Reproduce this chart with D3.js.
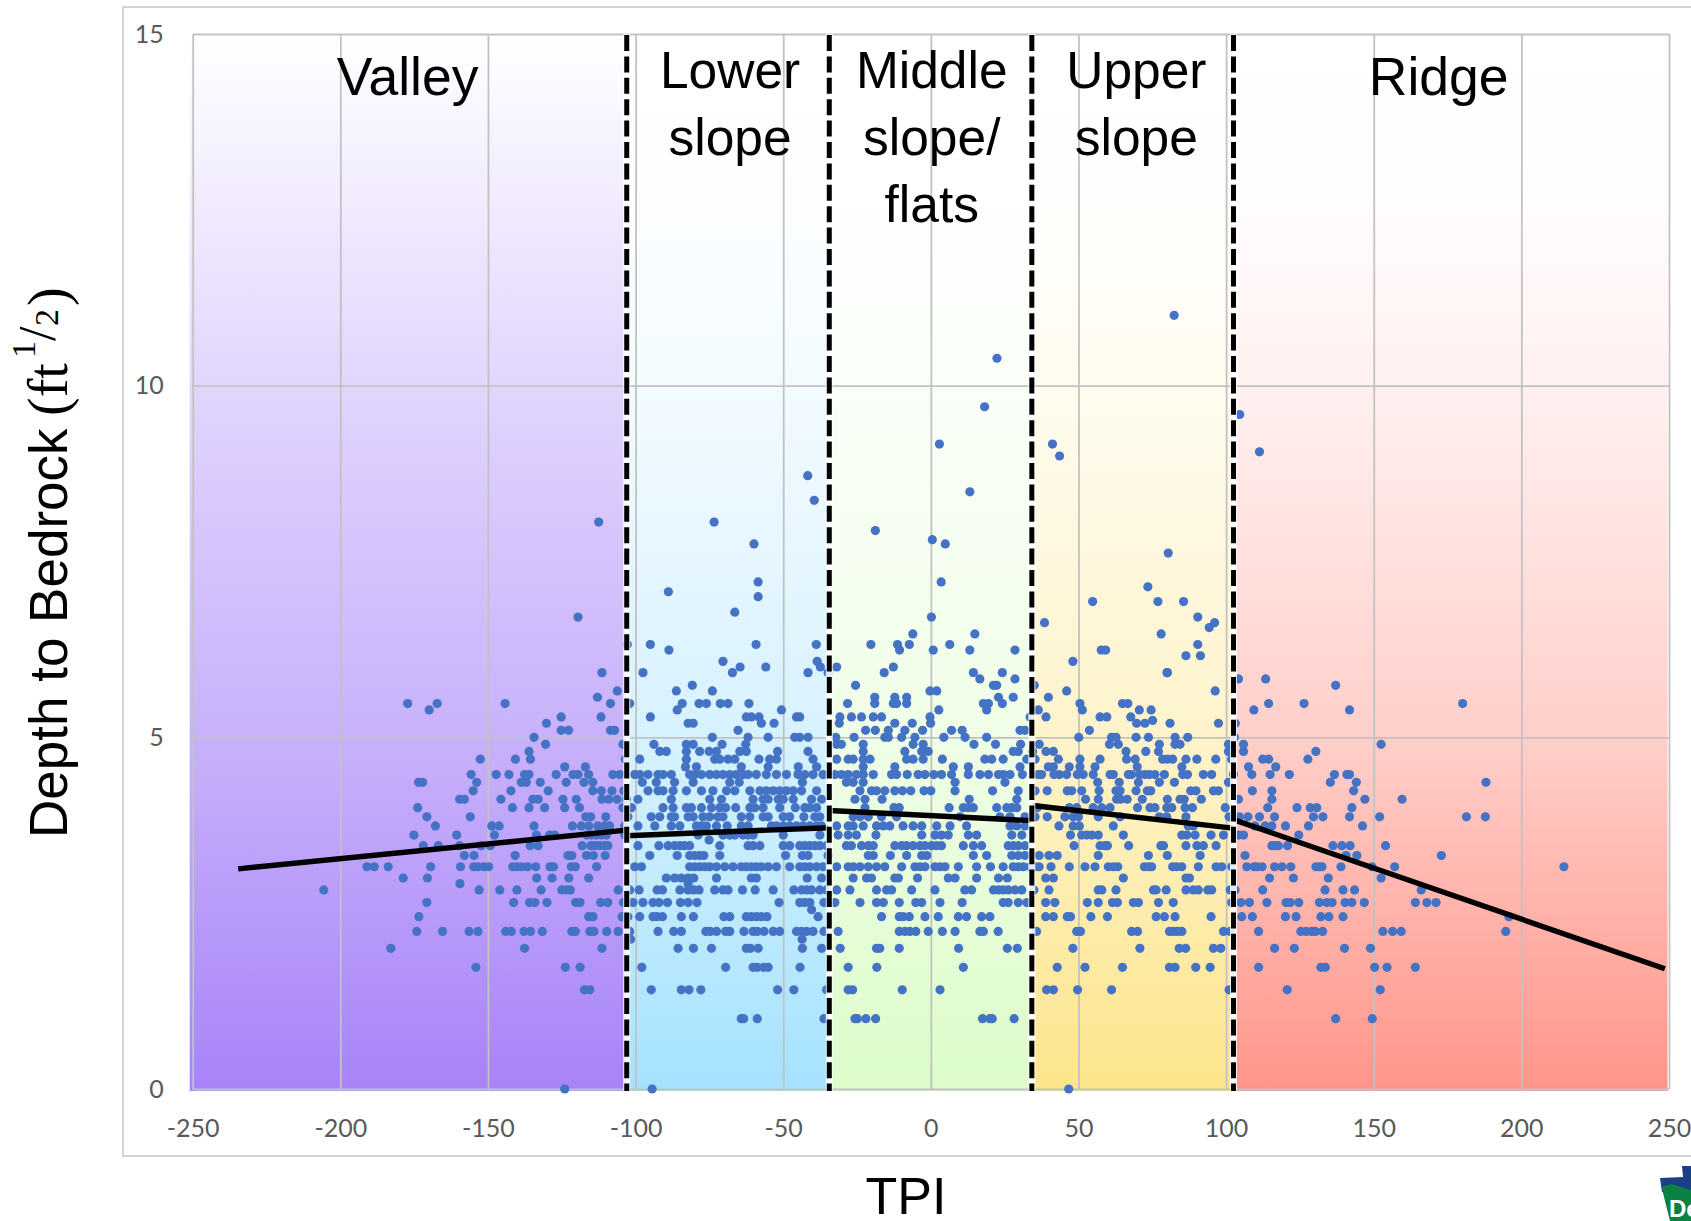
<!DOCTYPE html>
<html>
<head>
<meta charset="utf-8">
<title>Depth to Bedrock vs TPI</title>
<script src="https://cdn.jsdelivr.net/npm/d3@7"></script>
<style>
  body { margin: 0; background: #fff; overflow: hidden; }
  svg { display: block; }
  .tick text { font-family: Lato, "Open Sans", sans-serif; font-size: 25px; fill: #595959; }
  .tick line { stroke: #c2c2c2; stroke-width: 1.8; }
  .lbl { font-family: "Liberation Sans", Arial, sans-serif; font-size: 52px; fill: #000; }
  .math { font-family: "Liberation Serif", serif; fill: #000; }
</style>
</head>
<body>
<div id="chart"></div>
<script>
var xTicks = [-250, -200, -150, -100, -50, 0, 50, 100, 150, 200, 250];
var yTicks = [0, 5, 10, 15];

// slope position classes, TPI limits
var zoneNames = ["Valley", "Lower slope", "Middle slope/flats", "Upper slope", "Ridge"];
var zoneStart = [-250, -103, -34.4, 34.2, 102.5];
var zoneEnd = [-103, -34.4, 34.2, 102.5, 249.5];
var zoneColors = ["#a783f8", "#a5e2ff", "#dcfcc9", "#fce58b", "#ff9589"];
var dividers = [-103, -34.4, 34.2, 102.5];

// valley fades evenly, the others stay pale for longer
var gradientStops = [0, 0.15, 0.33, 0.47, 0.67, 1];
var valleyMix = [0, 0.15, 0.33, 0.47, 0.63, 1];
var paleMix = [0, 0.02, 0.13, 0.26, 0.46, 1];

// trend line per class
var trendTpiStart = [-234.6, -103, -34.4, 34.4, 103.2];
var trendTpiEnd = [-103.2, -34.4, 34.1, 102.3, 248.6];
var trendDepthStart = [3.13, 3.6, 3.96, 4.03, 3.82];
var trendDepthEnd = [3.68, 3.715, 3.815, 3.71, 1.71];

// depths come in bands, so the points are kept as one TPI list per band
var depthLevels = [0, 1, 1.41, 1.73, 2, 2.13, 2.24, 2.45, 2.55, 2.65, 2.83, 2.92, 3, 3.16, 3.32, 3.46, 3.54, 3.61, 3.74, 3.87,
  4, 4.12, 4.24, 4.36, 4.47, 4.58, 4.69, 4.8, 4.9, 5, 5.1, 5.2, 5.24, 5.29, 5.39, 5.48, 5.57, 5.66, 5.74, 5.83, 5.92,
  6, 6.08, 6.16, 6.24, 6.32, 6.47, 6.56, 6.63, 6.71, 6.78, 6.93, 7, 7.07, 7.14, 7.21, 7.62, 7.75, 7.81, 7.94, 8.06, 8.37, 8.49, 8.72,
  9, 9.06, 9.17, 9.59, 9.7, 10.39, 11];

var tpiRows = [
  [-124, -94.4, 46.7],
  [-64.2, -63.4, -58.8, -36.2, -25.7, -24.9, -22, -18.7, 17.5, 20, 20.8, 28.2, 137.1, 149.5],
  [-117.3, -115.5, -94.7, -84.5, -81.9, -77.9, -51.9, -46.4, -35.3, -28, -26.5, -9.7, 3.1, 39.2, 41.5, 49.7, 61.2, 101, 120.7, 152.2],
  [-154.1, -123.8, -118.8, -97.9, -69.5, -60.2, -58.8, -56.6, -55.1, -44.3, -28, -18.3, 11, 42.8, 52.2, 64.9, 80.8, 82.7, 89.7, 94.6, 111, 132.1, 133.6, 150.3, 154.5, 164.1],
  [-182.9, -137.6, -111.4, -85.6, -80.4, -74.3, -62.5, -61.1, -58.5, -43.5, -37, -30.7, -18.4, -17.3, -10.7, 9.4, 25.9, 29.3, 48.1, 70.8, 84.1, 86.3, 95.7, 98.2, 116.4, 123.1, 140.1, 148.9],
  [-101.7, -43.6],
  [-174.1, -165.4, -156.4, -153.4, -144, -142.1, -137.8, -135.6, -131.6, -121.6, -120.4, -115.5, -114.1, -109.8, -105.9, -102, -92.4, -87.1, -84.5, -76.2, -74.7, -72.6, -69.5, -68.1, -63.3, -60.2, -58.8, -56.5, -53.4, -51.2, -45.5, -43.8, -42.1, -39.9, -36.2, -31.4, -10.7, -8.8, -7.1, -5.1, -0.9, 3.9, 8.2, 16.6, 17.8, 22.8, 35.8, 49.4, 50.7, 68, 70, 80.8, 82.1, 83.5, 85, 99.1, 101.4, 111, 125.3, 127.1, 129, 130.2, 132.7, 153.1, 156.4, 159.3, 194.7],
  [-173.4, -115.9, -114.4, -104.6, -102.6, -98.6, -94.1, -92.7, -90.9, -84.5, -80.4, -70.1, -68.1, -62.5, -60.8, -59.1, -57.4, -55.5, -38.2, -16.7, -10.7, -9.4, -7.3, -2, 2.5, 9.3, 12.1, 17.2, 20, 38.9, 41.5, 46.2, 47.3, 54.2, 59.8, 76.3, 79.1, 82.7, 94.9, 105.3, 108.9, 120.1, 123.7, 132.1, 134.8, 139.6, 195.8],
  [-40.4],
  [-170.7, -141.3, -135.9, -134.1, -130, -120.3, -118.8, -111.8, -109.4, -104.1, -100.9, -97.5, -94.1, -92.1, -89.2, -84.8, -82.2, -79.2, -51.4, -44.4, -42.7, -41, -36.2, -32.5, -24, -18.4, -16.1, -10.7, -5.1, -3.1, 3.1, 10.6, 24.5, 26.2, 29.6, 32.5, 38.9, 42, 53, 56.7, 61.5, 63.2, 68.6, 70.3, 77.1, 82.1, 101.9, 105, 107.9, 113.8, 120.3, 121.7, 124.6, 131.6, 134.1, 135.9, 140.3, 142.6, 146.8, 164.1, 168, 171.1],
  [-205.6, -153, -146, -140.2, -132, -125, -123.3, -122.1, -105.9, -102, -98.8, -92.7, -90.9, -85, -82.2, -80.3, -78.5, -73.2, -70.4, -68.7, -63.8, -59.5, -53.4, -46.4, -43.8, -42.1, -40.4, -37.6, -35.3, -31.9, -27.4, -18.4, -15, -13.3, -6.5, 1.4, 11.5, 13.8, 21.2, 22.9, 24.5, 26.2, 28.5, 30.8, 34.9, 40, 56.7, 57.9, 62.7, 75.4, 76.3, 79.7, 86.4, 88.9, 90.6, 93.8, 95.1, 101.4, 103, 112.4, 133.5, 139.6, 143.5, 166.1],
  [-159.5, -82.2],
  [-178.7, -170.5, -133.5, -128.3, -122.6, -115.9, -89.6, -86.8, -84.5, -82.2, -80.3, -72.6, -60.8, -59.1, -41.9, -37, -26.3, -21.8, -20.1, -12.2, -11, -4.5, 5.9, 8.2, 15.5, 22.9, 25.9, 38.9, 41.5, 65.2, 86.4, 87.6, 114.7, 122.8, 134.6, 152.5],
  [-191, -188.5, -183.8, -169.4, -159.3, -154.8, -153.4, -151.4, -149.8, -141.6, -140.2, -138.5, -136.6, -133.8, -129, -127.8, -121.8, -120.4, -113.2, -100.3, -98, -81.7, -80, -78.3, -76.6, -74.9, -72.6, -69.8, -67, -64.2, -62.5, -60.8, -59.1, -57.4, -55.1, -52.3, -47.8, -44.4, -42.7, -41, -38.7, -36.5, -31.9, -28, -26.3, -24, -21.2, -18.4, -15.6, -9.9, -5.4, -3.7, -2, 1.4, 3.1, 4.8, 9.3, 15.5, 20.2, 24.5, 27.9, 29.6, 31.3, 33.6, 35.3, 36.7, 40.7, 46.9, 52.2, 55.6, 60.1, 61.8, 63.3, 72.3, 73.7, 74.8, 81.9, 83.3, 85, 90.6, 96.6, 98.5, 101.9, 107, 109.5, 110.4, 112.2, 116.4, 118.9, 121.9, 130.4, 131.6, 132.5, 138.9, 149.4, 157.1, 214.4],
  [-158, -154.7, -140.8, -122.9, -121.6, -116.6, -114.3, -110.3, -95.2, -85.9, -81.7, -80, -78.3, -76.9, -71.5, -49.2, -43.5, -41.6, -34.8, -21.2, -19.5, -13.7, -8.2, -3.1, -1.4, 14.4, 18.9, 27.4, 29.6, 31.9, 36.7, 40, 42.8, 56.7, 73.7, 80.1, 91.2, 106.4, 140.6, 144.3, 172.9],
  [-171.9, -166.8, -159.6, -152.3, -149.2, -135.7, -133, -118.1, -115.2, -113.9, -112.2, -110.5, -109.4, -99.2, -92.1, -89, -86.8, -85, -83.4, -81.7, -71.5, -61.9, -60.2, -57.9, -50, -47.8, -44.4, -42.7, -41, -39.3, -37.6, -35.3, -28.6, -26.9, -23.5, -21.2, -19.5, -12.2, -9.9, -8.2, -6, -3.7, -2, 0.2, 1.9, 3.6, 11, 14.4, 17.2, 26.2, 27.9, 29.6, 31.9, 48.5, 57.3, 59, 59.8, 67, 77.9, 78.8, 86.4, 90.1, 92.3, 96.6, 115.5, 116.6, 117.7, 120.8, 136.2, 139.2, 142, 154],
  [-75.1],
  [-175.1, -160.6, -147.8, -133.6, -129.1, -127.4, -116.5, -115, -113.3, -111.6, -109.9, -103.7, -78.8, -70.4, -68.1, -66.4, -63.6, -61.9, -60.2, -50, -37.6, -31.4, -28, -25.2, -18.6, -3.1, 1.4, 3.6, 5.9, 12.7, 15.5, 27.4, 30.8, 47.3, 51.1, 52.8, 54.5, 56.7, 65.2, 85, 86.7, 89.5, 94.9, 99.1, 104.2, 105.9, 124.6],
  [-167.8, -148.7, -146.2, -134.4, -121.4, -118.4, -115.8, -112.8, -110.5, -108.8, -103.7, -99.2, -93.5, -87.9, -85, -79.4, -77.7, -76, -72.6, -69, -64.2, -61.9, -54, -52.3, -50, -47.8, -45.5, -43.3, -41, -38.7, -37, -31.9, -28, -26.3, -22.9, -18.4, -16.1, -13.9, -9.4, -6, -3.1, 2, 6.5, 12.1, 26.8, 29.1, 31.9, 43.4, 48.2, 50.3, 61.8, 87.2, 88.9, 109.8, 113.2, 115.5, 120.1, 127.9, 146.2],
  [-170.7, -156, -116.9, -115.2, -110.1, -102.6, -94.7, -91.8, -87.9, -86.8, -82.2, -80.5, -77.2, -74.9, -72.1, -70.4, -64.2, -61.3, -56.8, -55.1, -50, -47.8, -43, -39.3, -37.6, -26.3, -24, -21.2, -16.7, -11.6, 9.9, 23.4, 26.8, 31.9, 35.3, 39.4, 45.4, 48.2, 50, 56.7, 64.1, 77.4, 79.9, 86.4, 101, 104.5, 107.4, 111.3, 116.4, 129.6, 132.8, 141.8, 152, 181.4, 187.8],
  [-173.8, -141.7, -136.1, -130.8, -124, -119, -104.3, -101.4, -90.7, -87.3, -82.8, -81.1, -77.7, -74.3, -71.5, -69.5, -66.1, -61.3, -59.6, -56.8, -51.2, -45.9, -42.7, -41, -38.7, -22.3, -12.5, -10.7, 6.2, 11, 12.7, 14.4, 22.3, 25.7, 27.4, 29.1, 36, 46.9, 49.4, 55, 57.9, 60.7, 70, 74.2, 75.9, 79.9, 81.6, 86.1, 88.6, 99.7, 114.1, 124, 128.5, 130.7, 142.6],
  [-159.6, -158, -145.6, -134.8, -133, -124.6, -120.1, -111.4, -109.1, -106.3, -103.1, -99.2, -87.9, -74.9, -70.9, -60.2, -56.8, -55.1, -51.7, -50, -46.6, -40.4, -37, -25.7, -22.3, -16.5, 13, 29.1, 52.4, 56.7, 62.9, 64.3, 66.5, 71.6, 80.1, 84.4, 85.8, 91.6, 104.2, 115.5, 147, 159.6],
  [-155, -142.2, -129.6, -114.5, -111.6, -108, -104, -95.8, -92.4, -90.7, -87.3, -82.8, -77.7, -73.8, -69.2, -66.4, -61.3, -57.9, -55.7, -53.4, -51.2, -48.9, -46.6, -43.8, -38.7, -24, -20.1, -18.4, -15.6, -12.2, -9.6, -6.8, -2.3, 0, 8.2, 20.9, 29.6, 35.3, 39.4, 46.2, 47.7, 51.1, 57, 62.7, 64.1, 69.5, 73.3, 74.5, 88, 89.8, 95.7, 97.4, 108.9, 115.5, 143.2],
  [-173.5, -172.1, -153.8, -138.7, -137, -132.3, -123.5, -117.5, -114.5, -97.7, -93, -86.8, -80.5, -68.1, -64.9, -43.5, -28.6, -26.3, -22.9, 8.2, 25.1, 56.5, 63.8, 70.3, 77.4, 82.5, 100.8, 135.3, 144.1, 188],
  [-155.7, -147.2, -142.9, -137.6, -136.1, -126.9, -121.2, -119.5, -115.9, -107.7, -105.4, -100.3, -98.6, -95.8, -92.4, -90.7, -87.9, -81.7, -80, -77.7, -74.9, -72.6, -70.4, -68.1, -65.9, -63.6, -61.9, -59.1, -55.7, -52.3, -48.9, -45, -42.7, -39.9, -36.5, -32.5, -30.3, -28, -25.2, -22.9, -19.5, -13.3, -11.6, -8, -4.3, -2, 1, 3.6, 7, 12.7, 16.6, 19.5, 22.9, 24.5, 26.8, 31, 36.4, 37.5, 41.7, 43.5, 46, 49.6, 51.6, 55, 60.7, 61.8, 66.9, 68, 70.8, 72.5, 74, 75.9, 79.1, 85.3, 86.9, 92.3, 95.1, 102.5, 108.7, 114.9, 121.4, 136.7, 140.9, 141.8],
  [-124, -117, -83.1, -79.4, -64.2, -55.1, -44.9, -38.7, -22.9, -12.2, 7.6, 12.7, 30.2, 39.8, 41.5, 46.9, 50.5, 55.6, 69.9, 85, 107.6, 116.8],
  [-152.6, -140.7, -135.6, -103.5, -98.6, -82.8, -73.2, -71.5, -68.7, -66.4, -58.2, -54.6, -52.3, -39.9, -31.9, -28, -26.3, -22.9, -20.6, -8.2, -6, -2.6, 3.9, 18.3, 20.6, 24.5, 32.5, 35.3, 43.2, 50.5, 57.3, 66.3, 69.2, 78.5, 80.1, 81.9, 86.4, 90.1, 96.5, 101.9, 112.4, 114.4, 127.7],
  [-136.1, -91.8, -89.6, -82.8, -78.3, -75.1, -72.6, -64.7, -62.5, -51.9, -41.6, -22.9, -8.8, -3.1, -0.9, 27.9, 29.6, 34.5, 39, 41.5, 66.1, 72.8, 77.1, 100.8, 105.9, 130.4],
  [-130.5, -104.3, -93.8, -82.8, -80.5, -70.7, -62.7, -31.9, -30.3, -22.9, -6, -2.6, 14.6, 21.9, 30.4, 36.7, 60.5, 63.5, 77.4, 82.7, 84.4, 100.8, 105.9, 152.5],
  [-134.4, -74, -61.9, -55.1, -46.1, -44.4, -41.6, -32.2, -26, -15.6, -14.4, -9.9, -5.4, 4.4, 11.6, 18.9, 50.1, 61.2, 62.7, 69.5, 73.7, 82.7, 87, 102.8],
  [-125.2, -122.7, -108.5, -107.1, -65.3, -22.1, -18.8, -14.4, -8.8, -2.8, 7, 10.6, 30.2, 31.9, 53.7],
  [-130.2, -82.2, -80.5, -57.4, -53.1, -31, -12.2, -6.3, -0.1, 69.7, 72.5, 81, 97.4, 103.1],
  [75.1],
  [-125.2, -111.7, -95, -62.5, -60.8, -58.2, -45.5, -44.4, -30.8, -26.9, -23.5, -19.5, -16.7, -0.3, 33.6, 39, 57.3, 59.6, 67.7],
  [-169.9, -85.9, -50.6, 2.7, 18.9, 36.4, 51.3, 70.6, 74.6, 109.4, 141.8],
  [-177.2, -167.2, -144.2, -108.5, -102, -84.2, -78.5, -76, -71.3, -68.7, -61.6, -28.2, -19, -12.7, -11.6, -8.2, 17.8, 19.5, 24.2, 50.5, 64.9, 66.7, 114.4, 126.4, 180.1],
  [-112.9, -19, -12.2, -8.2, 22.9, 27.9, 39.8],
  [-106.2, -86.2, -74, -0.3, 2, 46, 96.3],
  [-80.8, -25.5, 21.2, 22.3, 34.7, 35, 137.1],
  [16.6, 28.5, 104.2, 113.4],
  [-111.4, -97.5, -67.2, -41.6, -34.8, -15.8, 14.4, 24.2, 80, 80.1],
  [-64.6, -55.9, -37.4, -31.9, -12.7],
  [-70.4, -38.5, 48.1],
  [86.4, 91.3],
  [-88.7, -10.6, 0.8, 13.2, 28.5, 57.7, 59.2],
  [-102.8, -95, -59.2, -38.8, -20.3, -11.3, -7.3, 6.4, 90.4],
  [-6.1, 14.9, 78],
  [94.3],
  [38.5, 96.1],
  [-119.5, 0.2, 90.4],
  [-66.4],
  [54.8, 76.9, 85.6],
  [-58.5],
  [-88.9],
  [73.5],
  [-58.5, 3.5],
  [80.4],
  [-59.9, 4.9],
  [0.5],
  [-18.8],
  [-112.5, -73.4],
  [-39.5],
  [13.2],
  [-41.7],
  [43.6],
  [111.3],
  [2.9, 41.2],
  [104.6],
  [18.2],
  [22.4],
  [82.4]
];

var w = 1691;
var h = 1221;

var svg = d3.select("#chart").append("svg")
  .attr("width", w)
  .attr("height", h);

var x = d3.scaleLinear().domain([-250, 250]).range([192.7, 1669]);
var y = d3.scaleLinear().domain([0, 15]).range([1089, 34]);

// outer chart frame runs off the right of the page
svg.append("rect")
  .attr("x", 123).attr("y", 7)
  .attr("width", 1700).attr("height", 1149)
  .attr("fill", "none")
  .attr("stroke", "#c9c9c9")
  .attr("stroke-width", 1.6);

var defs = svg.append("defs");
zoneColors.forEach(function(c, i) {
  var g = defs.append("linearGradient")
    .attr("id", "zone" + i)
    .attr("x1", 0).attr("y1", 0).attr("x2", 0).attr("y2", 1);
  var mix = i == 0 ? valleyMix : paleMix;
  gradientStops.forEach(function(s, j) {
    g.append("stop")
      .attr("offset", s)
      .attr("stop-color", d3.interpolateRgb("#fff", c)(mix[j]));
  });
});

svg.selectAll("rect.zone")
  .data(zoneNames)
  .enter().append("rect")
    .attr("class", "zone")
    .attr("x", function(d, i) { return x(zoneStart[i]) - (i == 0 ? 3 : 0); })
    .attr("y", y(15))
    .attr("width", function(d, i) { return x(zoneEnd[i]) - x(zoneStart[i]) + (i == 0 ? 3 : 0); })
    .attr("height", y(0) - y(15) + 2)
    .attr("fill", function(d, i) { return "url(#zone" + i + ")"; });

// axes double as the grid
var xAxis = d3.axisBottom(x)
  .tickValues(xTicks)
  .tickSize(y(15) - y(0))
  .tickPadding(30);

var yAxis = d3.axisLeft(y)
  .tickValues(yTicks)
  .tickSize(x(-250) - x(250))
  .tickPadding(29);

var gx = svg.append("g").attr("transform", "translate(0," + y(0) + ")").call(xAxis);
var gy = svg.append("g").attr("transform", "translate(" + x(-250) + ",0)").call(yAxis);
gx.select(".domain").remove();
gy.select(".domain").remove();
// axis puts labels on the negative side once tickSize flips, so set them again
gx.selectAll(".tick text").attr("y", 30).attr("dy", "0.71em");
gy.selectAll(".tick text").attr("x", -29).attr("dy", "0.32em");
gx.selectAll(".tick text").text(function(d) { return String(d); });

var points = [];
tpiRows.forEach(function(row, i) {
  row.forEach(function(t) { points.push({ tpi: t, depth: depthLevels[i] }); });
});

svg.selectAll("circle.pt")
  .data(points)
  .enter().append("circle")
    .attr("class", "pt")
    .attr("cx", function(d) { return x(d.tpi); })
    .attr("cy", function(d) { return y(d.depth); })
    .attr("r", 4.6)
    .attr("fill", "#4472c4");

// trend segments
svg.selectAll("line.trend")
  .data(trendTpiStart)
  .enter().append("line")
    .attr("class", "trend")
    .attr("x1", function(d) { return x(d); })
    .attr("y1", function(d, i) { return y(trendDepthStart[i]); })
    .attr("x2", function(d, i) { return x(trendTpiEnd[i]); })
    .attr("y2", function(d, i) { return y(trendDepthEnd[i]); })
    .attr("stroke", "#000")
    .attr("stroke-width", 5.4);

// dashed dividers, white shows through the gaps
svg.selectAll("line.halo")
  .data(dividers)
  .enter().append("line")
    .attr("class", "halo")
    .attr("x1", function(d) { return x(d); })
    .attr("x2", function(d) { return x(d); })
    .attr("y1", y(15)).attr("y2", y(0) + 2)
    .attr("stroke", "#fff")
    .attr("stroke-opacity", 0.85)
    .attr("stroke-width", 7);

svg.selectAll("line.divider")
  .data(dividers)
  .enter().append("line")
    .attr("class", "divider")
    .attr("x1", function(d) { return x(d); })
    .attr("x2", function(d) { return x(d); })
    .attr("y1", y(15) + 1).attr("y2", y(0) + 2)
    .attr("stroke", "#000")
    .attr("stroke-width", 5)
    .attr("stroke-dasharray", "16 5.4");

// zone names
var nameLines = [["Valley"], ["Lower", "slope"], ["Middle", "slope/", "flats"], ["Upper", "slope"], ["Ridge"]];
var nameCenters = [-177.2, -68, 0.3, 69.6, 172];
nameLines.forEach(function(lines, i) {
  var top = lines.length == 1 ? 95 : 88;
  lines.forEach(function(t, j) {
    svg.append("text")
      .attr("class", "lbl")
      .attr("x", x(nameCenters[i]))
      .attr("y", top + j * 67)
      .attr("text-anchor", "middle")
      .style("font-size", lines.length == 1 ? "53.5px" : "51.5px")
      .text(t);
  });
});

svg.append("text")
  .attr("class", "lbl")
  .attr("x", 906).attr("y", 1214)
  .attr("text-anchor", "middle")
  .text("TPI");

// y title, the unit part is set piece by piece like an equation
var yt = svg.append("g").attr("transform", "translate(67,838) rotate(-90)");
yt.append("text").attr("class", "lbl").attr("x", 0).attr("y", 0).style("font-size", "53px").text("Depth to Bedrock");
yt.append("text").attr("class", "math").attr("x", 422).attr("y", 0).style("font-size", "56px").text("(ft");
yt.append("text").attr("class", "math").attr("x", 480).attr("y", -32).style("font-size", "34px").text("1");
yt.append("text").attr("class", "math").attr("x", 497).attr("y", -12).style("font-size", "52px").text("/");
yt.append("text").attr("class", "math").attr("x", 512).attr("y", -9).style("font-size", "34px").text("2");
yt.append("text").attr("class", "math").attr("x", 532).attr("y", 0).style("font-size", "56px").text(")");

// agency logo, cut off at the corner
var logo = svg.append("g");
logo.append("polygon").attr("points", "1682,1166 1691,1166 1691,1192 1662,1192 1660,1178 1683,1177").attr("fill", "#1b3f87");
logo.append("polygon").attr("points", "1661.5,1187 1672,1184 1691,1190 1691,1221 1670,1221").attr("fill", "#0b8043");
logo.append("text").attr("x", 1669).attr("y", 1217).attr("fill", "#fff")
  .style("font-family", "'Liberation Sans', sans-serif").style("font-size", "24px").style("font-weight", "bold").text("De");
</script>
</body>
</html>
